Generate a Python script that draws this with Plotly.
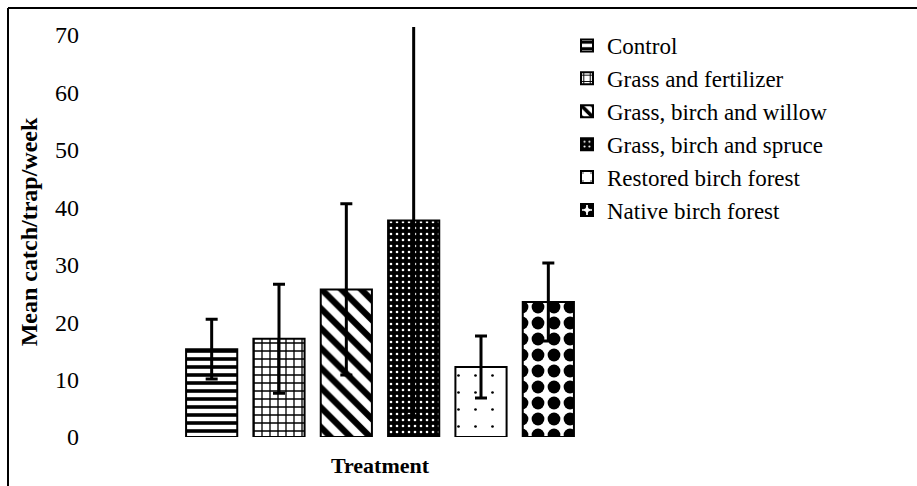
import plotly.graph_objects as go

categories = ["Control", "Grass and fertilizer", "Grass, birch and willow",
              "Grass, birch and spruce", "Restored birch forest", "Native birch forest"]
means = [15.3, 17.1, 25.7, 37.7, 12.2, 23.5]
errors = [5.2, 9.5, 14.9, 34.0, 5.4, 6.8]
y_ticks = [0, 10, 20, 30, 40, 50, 60, 70]

patterns = [
    dict(shape="-", fgcolor="black", bgcolor="white", fgopacity=1, size=8, solidity=0.45),
    dict(shape="+", fgcolor="black", bgcolor="white", fgopacity=1, size=8, solidity=0.3),
    dict(shape="\\", fgcolor="black", bgcolor="white", fgopacity=1, size=14, solidity=0.45),
    dict(shape=".", fgcolor="white", bgcolor="black", fgopacity=1, size=6, solidity=0.15),
    dict(shape=".", fgcolor="black", bgcolor="white", fgopacity=1, size=17, solidity=0.02),
    dict(shape=".", fgcolor="black", bgcolor="white", fgopacity=1, size=16, solidity=0.5),
]

W, H = 917, 486
L, R, T, B = 178, 335, 27, 49

FONT = "Liberation Serif"

fig = go.Figure()
for cat, m, e, p in zip(categories, means, errors, patterns):
    fig.add_trace(go.Bar(
        x=[cat], y=[m], name=cat, width=0.76,
        marker=dict(color="white", pattern=p, line=dict(color="black", width=2)),
        error_y=dict(type="data", array=[e], visible=True, color="black",
                     thickness=3, width=6),
    ))

pw, ph = W - L - R, H - T - B
def px_x(v):
    return (v - L) / pw
def px_y(v):
    return (H - B - v) / ph

shapes = [
    dict(type="line", xref="paper", yref="paper", x0=px_x(8), x1=px_x(8),
         y0=px_y(8), y1=px_y(H + 10), line=dict(color="black", width=2)),
    dict(type="line", xref="paper", yref="paper", x0=px_x(8), x1=px_x(W + 10),
         y0=px_y(8), y1=px_y(8), line=dict(color="black", width=2)),
]

fig.update_layout(
    width=W, height=H,
    margin=dict(l=L, r=R, t=T, b=B),
    paper_bgcolor="white", plot_bgcolor="white",
    barmode="overlay",
    font=dict(family=FONT, size=22, color="black"),
    showlegend=True,
    legend=dict(x=px_x(567), y=px_y(24), xanchor="left", yanchor="top",
                font=dict(family=FONT, size=23, color="black"),
                itemwidth=30, tracegroupgap=0, bgcolor="rgba(0,0,0,0)"),
    xaxis=dict(showticklabels=False, showline=False, showgrid=False, ticks="",
               title=dict(text="<b>Treatment</b>", font=dict(family=FONT, size=22), standoff=20)),
    yaxis=dict(range=[0, 71.4], tickvals=y_ticks, showgrid=False, showline=False,
               zeroline=False, ticks="", tickfont=dict(family=FONT, size=24),
               ticklabelstandoff=98,
               title=dict(text="<b>Mean catch/trap/week</b>", font=dict(family=FONT, size=24),
                          standoff=10)),
    shapes=shapes,
)

fig.write_html("out.html")
